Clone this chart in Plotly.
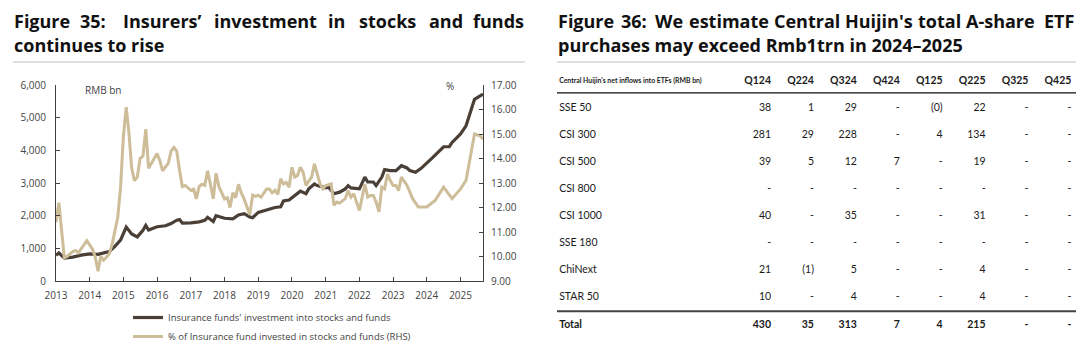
import plotly.graph_objects as go

W, H = 1080, 351

# ---------------- Figure 35 data ----------------
inv_dates = ["2013-01", "2013-02", "2013-04", "2013-07", "2013-10", "2014-01", "2014-04", "2014-06",
             "2014-08", "2014-10", "2014-12", "2015-02", "2015-04", "2015-06", "2015-07", "2015-08",
             "2015-09", "2015-10", "2016-01", "2016-04", "2016-06", "2016-08", "2016-09", "2016-10",
             "2017-01", "2017-04", "2017-06", "2017-07", "2017-09", "2017-10", "2018-01", "2018-04",
             "2018-06", "2018-08", "2018-10", "2018-11", "2019-01", "2019-04", "2019-07", "2019-09",
             "2019-10", "2019-12", "2020-01", "2020-02", "2020-03", "2020-04", "2020-06", "2020-07",
             "2020-09", "2020-10", "2021-01", "2021-02", "2021-04", "2021-06", "2021-08", "2021-09",
             "2021-10", "2022-01", "2022-03", "2022-04", "2022-06", "2022-07", "2022-09", "2022-10",
             "2022-12", "2023-02", "2023-04", "2023-06", "2023-07", "2023-09", "2023-11", "2024-01",
             "2024-03", "2024-05", "2024-07", "2024-09", "2024-10", "2025-01", "2025-03", "2025-06",
             "2025-08", "2025-09"]
inv_values = [790, 860, 700, 730, 790, 830, 815, 860,
              900, 1060, 1250, 1650, 1440, 1350, 1450, 1550,
              1700, 1560, 1660, 1690, 1760, 1860, 1880, 1770,
              1780, 1810, 1860, 1950, 1820, 2000, 1920, 1900,
              2020, 2060, 1960, 1940, 2100, 2170, 2250, 2270,
              2450, 2480, 2550, 2620, 2670, 2750, 2670, 2820,
              2970, 2920, 2850, 2870, 2670, 2720, 2820, 2920,
              2850, 2820, 3180, 3030, 3030, 2920, 3180, 3410,
              3380, 3380, 3530, 3460, 3380, 3330, 3450, 3600,
              3770, 3940, 4110, 4110, 4240, 4500, 4750, 5560,
              5660, 5720]

pct_dates = ["2013-01", "2013-02", "2013-04", "2013-05", "2013-07", "2013-08", "2013-09", "2013-11",
             "2013-12", "2014-02", "2014-03", "2014-04", "2014-05", "2014-06", "2014-08", "2014-09",
             "2014-10", "2014-11", "2014-12", "2015-01", "2015-02", "2015-03", "2015-04", "2015-05",
             "2015-06", "2015-07", "2015-08", "2015-09", "2015-10", "2015-11", "2016-01", "2016-02",
             "2016-03", "2016-05", "2016-06", "2016-07", "2016-08", "2016-09", "2016-10", "2016-11",
             "2017-01", "2017-02", "2017-03", "2017-04", "2017-05", "2017-06", "2017-07", "2017-08",
             "2017-09", "2017-10", "2017-11", "2018-01", "2018-02", "2018-03", "2018-04", "2018-05",
             "2018-06", "2018-07", "2018-08", "2018-10", "2018-11", "2018-12", "2019-01", "2019-02",
             "2019-04", "2019-05", "2019-06", "2019-07", "2019-08", "2019-09", "2019-10", "2019-11",
             "2019-12", "2020-01", "2020-02", "2020-03", "2020-04", "2020-05", "2020-06", "2020-08",
             "2020-09", "2020-10", "2020-11", "2020-12", "2021-01", "2021-03", "2021-04", "2021-05",
             "2021-06", "2021-08", "2021-09", "2021-10", "2021-11", "2021-12", "2022-01", "2022-03",
             "2022-04", "2022-05", "2022-06", "2022-07", "2022-08", "2022-09", "2022-10", "2022-11",
             "2022-12", "2023-01", "2023-02", "2023-03", "2023-04", "2023-06", "2023-08", "2023-10",
             "2024-01", "2024-04", "2024-07", "2024-10", "2025-01", "2025-03", "2025-06", "2025-08",
             "2025-09"]
pct_values = [11.4, 12.2, 9.95, 10.0, 10.2, 10.25, 10.15, 10.5,
              10.65, 10.3, 10.0, 9.4, 10.0, 9.85, 10.1, 10.5,
              11.05, 11.6, 12.8, 14.9, 16.1, 15.1, 13.6, 13.1,
              13.25, 14.0, 14.1, 15.2, 13.6, 13.8, 14.2, 13.9,
              13.5, 13.8, 14.3, 14.45, 14.3, 13.5, 12.85, 12.9,
              12.7, 12.75, 12.35, 12.85, 12.95, 12.9, 13.5, 12.95,
              12.35, 13.4, 12.85, 12.35, 12.4, 12.0, 12.6, 12.4,
              12.95, 12.6, 12.35, 11.7, 12.5, 12.45, 12.5, 12.42,
              12.76, 12.76, 12.6, 12.7, 12.53, 13.17, 12.96, 13.03,
              12.83, 13.64, 13.24, 13.3, 13.64, 13.44, 12.9, 13.24,
              13.78, 13.37, 12.96, 12.76, 12.9, 12.96, 12.09, 12.22,
              12.18, 12.36, 12.69, 12.42, 12.56, 12.22, 11.88, 12.96,
              12.42, 12.49, 12.49, 12.22, 11.82, 12.83, 12.76, 13.37,
              13.1, 12.9, 12.9, 12.69, 13.24, 12.9, 12.36, 12.02,
              12.02, 12.29, 12.83, 12.36, 12.76, 13.1, 15.0, 14.93,
              14.79]

inv_name = "Insurance funds' investment into stocks and funds"
pct_name = "% of Insurance fund invested in stocks and funds (RHS)"

# ---------------- Figure 36 data ----------------
table_title = "Central Huijin's net inflows into ETFs (RMB bn)"
quarters = ["Q124", "Q224", "Q324", "Q424", "Q125", "Q225", "Q325", "Q425"]
index_names = ["SSE 50", "CSI 300", "CSI 500", "CSI 800", "CSI 1000", "SSE 180", "ChiNext", "STAR 50"]
sse50 = ["38", "1", "29", "-", "(0)", "22", "-", "-"]
csi300 = ["281", "29", "228", "-", "4", "134", "-", "-"]
csi500 = ["39", "5", "12", "7", "-", "19", "-", "-"]
csi800 = ["-", "-", "-", "-", "-", "-", "-", "-"]
csi1000 = ["40", "-", "35", "-", "-", "31", "-", "-"]
sse180 = ["-", "-", "-", "-", "-", "-", "-", "-"]
chinext = ["21", "(1)", "5", "-", "-", "4", "-", "-"]
star50 = ["10", "-", "4", "-", "-", "4", "-", "-"]
total_label = "Total"
total = ["430", "35", "313", "7", "4", "215", "-", "-"]
index_rows = [sse50, csi300, csi500, csi800, csi1000, sse180, chinext, star50]

# ---------------- styling ----------------
DARK = "#4a3f36"
TAN = "#cdbd98"
AXIS = "#404040"
TXT = "#444444"
CHART_FONT = "Open Sans"
TABLE_FONT = "Lato"


def px_x(x):
    return x / W


def px_y(y):
    return 1 - y / H


fig = go.Figure()

fig.add_trace(go.Scatter(x=inv_dates, y=inv_values, name=inv_name, mode="lines",
                         line=dict(color=DARK, width=3.2), xaxis="x", yaxis="y"))
fig.add_trace(go.Scatter(x=pct_dates, y=pct_values, name=pct_name, mode="lines",
                         line=dict(color=TAN, width=3), xaxis="x", yaxis="y2"))

# ---------------- table via text traces on hidden axes ----------------
ROW_PITCH = 27.1
TOP_ROW_Y = 81
COL_UNIT = 42.9
T_LEFT, T_RIGHT = 557, 1076
FIRST_COL = 4.99
LABEL_X = 0.05

n_rows = len(index_rows) + 2
row_pos = list(range(n_rows))


def bold(s):
    return "<b>" + s + "</b>"


label_texts = [bold(table_title)] + index_names + [bold(total_label)]
label_sizes = [6.9] + [10.5] * len(index_names) + [10.5]
fig.add_trace(go.Scatter(x=[LABEL_X] * n_rows, y=row_pos, mode="text", text=label_texts,
                         textposition="middle right", showlegend=False, hoverinfo="skip",
                         textfont=dict(family=TABLE_FONT, size=label_sizes, color="#1a1a1a"),
                         xaxis="x3", yaxis="y3"))
for k, q in enumerate(quarters):
    col_texts = [bold(q)] + [row[k] for row in index_rows] + [bold(total[k])]
    fig.add_trace(go.Scatter(x=[FIRST_COL + k] * n_rows, y=row_pos, mode="text", text=col_texts,
                             textposition="middle left", showlegend=False, hoverinfo="skip",
                             textfont=dict(family=TABLE_FONT, size=10.5, color="#1a1a1a"),
                             xaxis="x3", yaxis="y3"))

# ---------------- titles ----------------
annotations = []
TITLE_FONT = dict(family="Open Sans", size=18, color="#111111")


def word(text, x, y, anchor="left"):
    annotations.append(dict(text="<b>" + text + "</b>", x=px_x(x), y=px_y(y), xref="paper", yref="paper",
                            xanchor=anchor, yanchor="middle", showarrow=False, font=TITLE_FONT))


left_words = [("Figure", 13), ("35:", 79), ("Insurers’", 122), ("investment", 213), ("in", 327),
              ("stocks", 358), ("and", 428)]
for t, x in left_words:
    word(t, x - 1, 21)
word("funds", 526, 21, "right")
word("continues to rise", 12, 45)

right_words = [("Figure", 557), ("36:", 620), ("We", 654), ("estimate", 688), ("Central", 773),
               ("Huijin's", 844), ("total", 917), ("A-share", 965)]
for t, x in right_words:
    word(t, x - 1, 21)
word("ETF", 1076, 21, "right")
word("purchases may exceed Rmb1trn in 2024–2025", 556, 45)

annotations.append(dict(text="RMB bn", x=px_x(83), y=px_y(90), xref="paper", yref="paper", xanchor="left",
                        yanchor="middle", showarrow=False, font=dict(family=CHART_FONT, size=10, color=TXT)))
annotations.append(dict(text="%", x=px_x(450), y=px_y(86), xref="paper", yref="paper", xanchor="center",
                        yanchor="middle", showarrow=False, font=dict(family=CHART_FONT, size=10, color=TXT)))

shapes = [
    dict(type="line", xref="paper", yref="paper", x0=px_x(13), x1=px_x(525), y0=px_y(62), y1=px_y(62),
         line=dict(color="#d6d6d6", width=1.5)),
    dict(type="line", xref="paper", yref="paper", x0=px_x(557), x1=px_x(1076), y0=px_y(62), y1=px_y(62),
         line=dict(color="#d6d6d6", width=1.5)),
    dict(type="line", xref="paper", yref="y3", x0=px_x(T_LEFT), x1=px_x(T_RIGHT), y0=0.44, y1=0.44,
         line=dict(color="#111111", width=1.3)),
    dict(type="line", xref="paper", yref="y3", x0=px_x(T_LEFT), x1=px_x(T_RIGHT), y0=8.5, y1=8.5,
         line=dict(color="#444444", width=2)),
]

tick_font = dict(family=CHART_FONT, size=10, color=TXT)
axis_common = dict(showgrid=False, zeroline=False, showline=True, linecolor=AXIS, linewidth=1,
                   ticks="inside", ticklen=4, tickcolor=AXIS, tickfont=tick_font, automargin=False)

t_top = TOP_ROW_Y - 0.5 * ROW_PITCH
t_bottom = TOP_ROW_Y + (n_rows - 0.5) * ROW_PITCH

fig.update_layout(
    width=W, height=H, autosize=False,
    margin=dict(l=0, r=0, t=0, b=0, pad=0, autoexpand=False),
    paper_bgcolor="white", plot_bgcolor="white",
    showlegend=True,
    legend=dict(orientation="v", x=px_x(128), y=px_y(303), xanchor="left", yanchor="top",
                font=dict(family=CHART_FONT, size=9.5, color=TXT), bgcolor="rgba(0,0,0,0)",
                tracegroupgap=0, itemwidth=30),
    xaxis=dict(domain=[px_x(56), px_x(483)], type="date", range=["2013-01-01", "2025-09-01"],
               tickmode="linear", tick0="2013-01-01", dtick="M12", tickformat="%Y", anchor="y",
               ticklabelstandoff=5, **axis_common),
    yaxis=dict(domain=[px_y(281), px_y(85)], range=[0, 6000], dtick=1000, tickformat=",", anchor="x",
               ticklabelstandoff=7, **axis_common),
    yaxis2=dict(overlaying="y", side="right", range=[9, 17], dtick=1, tickformat=".2f", anchor="x",
                ticklabelstandoff=5, **axis_common),
    xaxis3=dict(domain=[px_x(T_LEFT), px_x(T_RIGHT)], range=[0, (T_RIGHT - T_LEFT) / COL_UNIT],
                anchor="y3", visible=False, fixedrange=True, automargin=False),
    yaxis3=dict(domain=[px_y(t_bottom), px_y(t_top)], range=[n_rows - 0.5, -0.5], anchor="x3",
                visible=False, fixedrange=True, automargin=False),
    annotations=annotations,
    shapes=shapes,
)

fig.write_html("out.html")
